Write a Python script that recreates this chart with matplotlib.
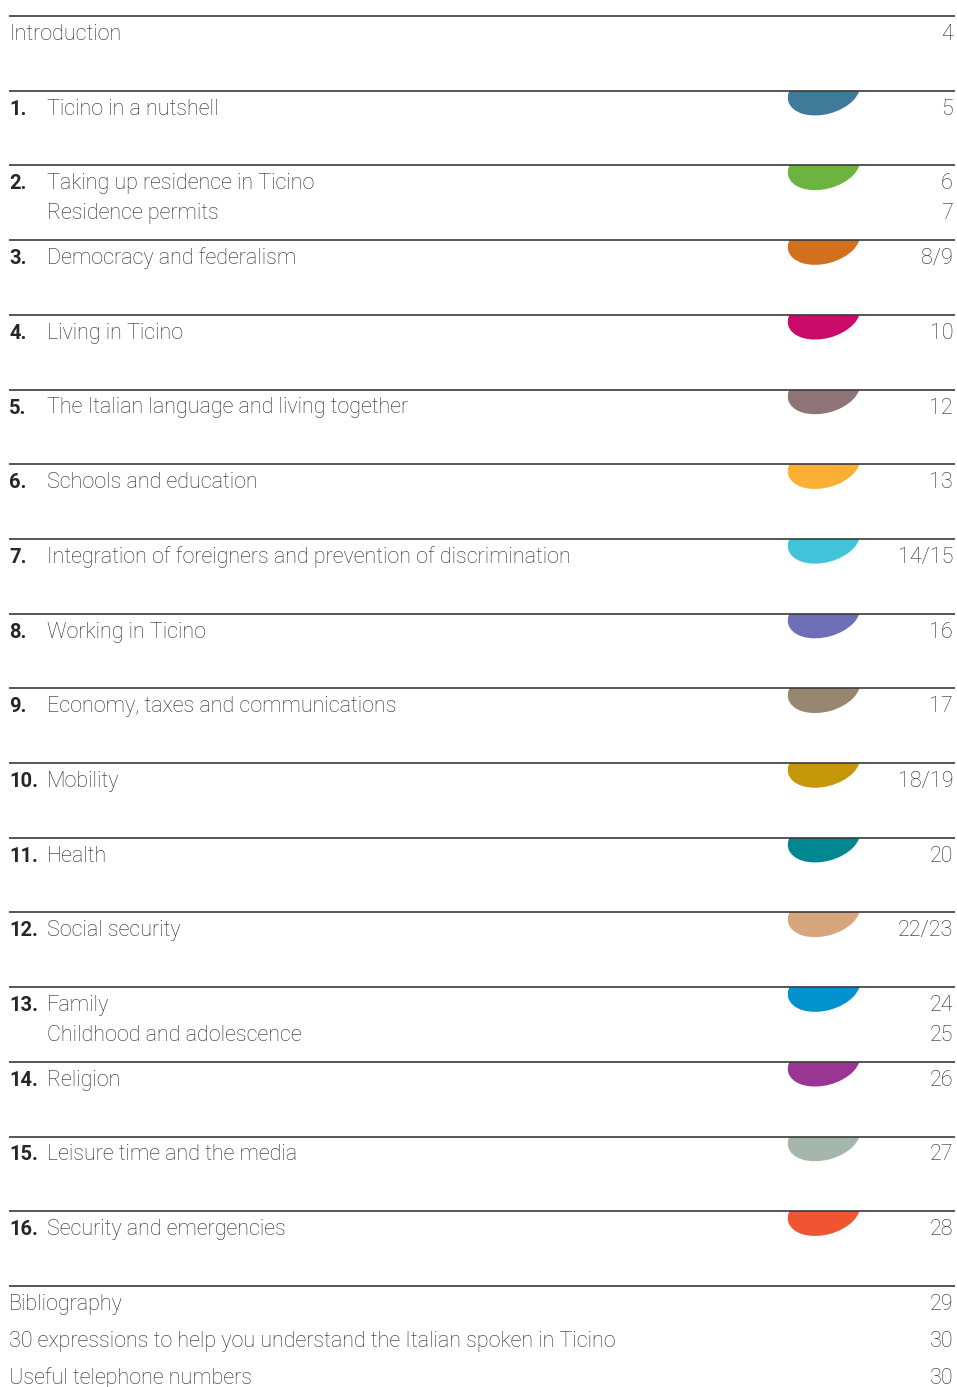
import matplotlib
matplotlib.use("Agg")
import matplotlib.pyplot as plt
from matplotlib.patches import Ellipse, Rectangle

# ---- data ----
intro_title = "Introduction"
intro_page = "4"
chapter_numbers = [f"{i}." for i in range(1, 17)]
chapter_titles = [
    "Ticino in a nutshell",
    "Taking up residence in Ticino",
    "Democracy and federalism",
    "Living in Ticino",
    "The Italian language and living together",
    "Schools and education",
    "Integration of foreigners and prevention of discrimination",
    "Working in Ticino",
    "Economy, taxes and communications",
    "Mobility",
    "Health",
    "Social security",
    "Family",
    "Religion",
    "Leisure time and the media",
    "Security and emergencies",
]
chapter_pages = ["5", "6", "8/9", "10", "12", "13", "14/15", "16", "17",
                 "18/19", "20", "22/23", "24", "26", "27", "28"]
subtitle_chapters = [2, 13]
subtitle_texts = ["Residence permits", "Childhood and adolescence"]
subtitle_pages = ["7", "25"]
chapter_colors = ["#3f7b98", "#6cb43f", "#d2701e", "#cc0a6a", "#8e7476",
                  "#fbb034", "#41c3da", "#6e6fb7", "#97876f", "#c5970b",
                  "#00878f", "#d8a67c", "#0091cf", "#9a3593", "#a5b6ad",
                  "#f05532"]
appendix_titles = ["Bibliography",
                   "30 expressions to help you understand the Italian spoken in Ticino",
                   "Useful telephone numbers"]
appendix_pages = ["29", "30", "30"]

# ---- layout ----
W, H = 957, 1387
fig = plt.figure(figsize=(W / 100, H / 100), dpi=100)
ax = fig.add_axes([0, 0, 1, 1])
ax.set_xlim(0, W)
ax.set_ylim(H, 0)
ax.axis("off")

FONT = "Roboto"
TXT = "#262626"
FS = 15.5
x_left, x_num_title, x_right = 9, 47, 953
line_x0, line_x1 = 9, 955
row0, step = 16, 74.7


def hline(y):
    ax.plot([line_x0, line_x1], [y, y], color="#3a3a3a", lw=1.2, solid_capstyle="butt", zorder=3)


def txt(x, y, s, ha="left", weight="light", fs=FS):
    ax.text(x, y, s, ha=ha, va="baseline", fontsize=fs, family=FONT,
            fontweight=weight, color=TXT)


# intro
hline(row0)
txt(x_left, row0 + 24, intro_title)
txt(x_right, row0 + 24, intro_page, ha="right")

for i in range(16):
    y = row0 + step * (i + 1)
    hline(y)
    # hanging tab
    clip = Rectangle((780, y), 100, 40, transform=ax.transData)
    e = Ellipse((824, y + 1), 74, 45, angle=-15, facecolor=chapter_colors[i],
                edgecolor="none", zorder=2)
    ax.add_patch(e)
    e.set_clip_path(clip)
    txt(x_left, y + 24, chapter_numbers[i], weight="bold", fs=14.5)
    txt(x_num_title, y + 24, chapter_titles[i])
    txt(x_right, y + 24, chapter_pages[i], ha="right")
    if (i + 1) in subtitle_chapters:
        k = subtitle_chapters.index(i + 1)
        txt(x_num_title, y + 54, subtitle_texts[k])
        txt(x_right, y + 54, subtitle_pages[k], ha="right")

y = row0 + step * 17
hline(y)
for k, (t, p) in enumerate(zip(appendix_titles, appendix_pages)):
    txt(x_left, y + 24 + 37 * k, t)
    txt(x_right, y + 24 + 37 * k, p, ha="right")

fig.savefig("out.png", dpi=100)
